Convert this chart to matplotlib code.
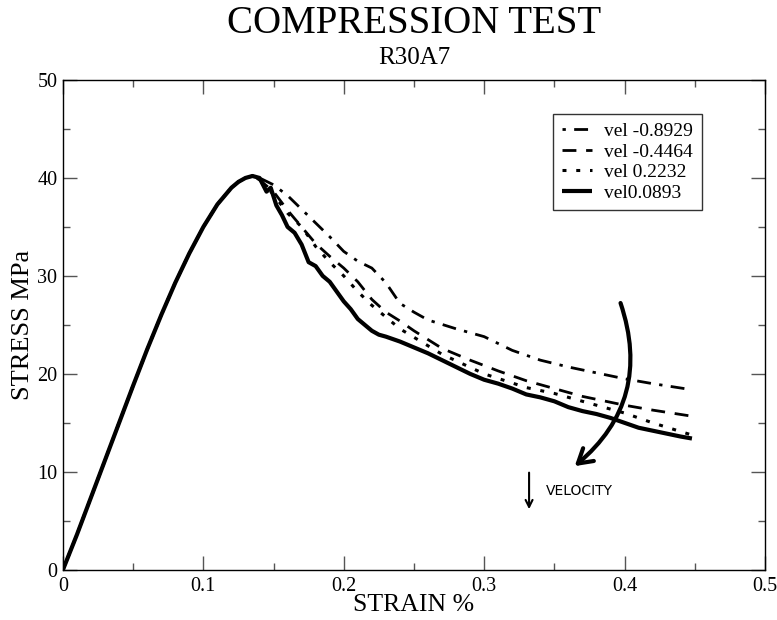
import matplotlib
matplotlib.use("Agg")
import matplotlib.pyplot as plt
from matplotlib.patches import FancyArrowPatch
from matplotlib.ticker import MultipleLocator

plt.rcParams['font.family'] = ['Liberation Serif', 'DejaVu Serif']

# Shared elastic loading branch (strain %, stress MPa)
rise_strain = [0.0, 0.01, 0.02, 0.03, 0.04, 0.05, 0.06, 0.07, 0.08, 0.09, 0.10,
               0.11, 0.12, 0.125, 0.13, 0.135]
rise_stress = [0.0, 3.6, 7.4, 11.2, 15.0, 18.8, 22.5, 26.0, 29.3, 32.3, 35.0,
               37.3, 39.0, 39.6, 40.0, 40.2]

# Post-peak branches for each loading velocity
strain_m08929 = [0.14, 0.15, 0.16, 0.17, 0.18, 0.19, 0.20, 0.21, 0.22, 0.23, 0.24,
                 0.25, 0.26, 0.28, 0.30, 0.32, 0.34, 0.36, 0.38, 0.40, 0.42, 0.447]
stress_m08929 = [40.0, 39.3, 38.2, 36.8, 35.4, 34.0, 32.5, 31.5, 30.8, 29.3, 27.2,
                 26.3, 25.5, 24.6, 23.8, 22.4, 21.4, 20.7, 20.1, 19.5, 19.0, 18.4]

strain_m04464 = [0.14, 0.15, 0.16, 0.17, 0.18, 0.19, 0.20, 0.21, 0.22, 0.23, 0.24,
                 0.25, 0.27, 0.29, 0.31, 0.33, 0.35, 0.37, 0.40, 0.42, 0.447]
stress_m04464 = [39.8, 38.6, 36.7, 35.0, 33.3, 32.0, 30.8, 29.4, 27.6, 26.3, 25.4,
                 24.4, 22.6, 21.4, 20.3, 19.3, 18.5, 17.7, 16.8, 16.3, 15.7]

strain_p02232 = [0.14, 0.15, 0.16, 0.17, 0.18, 0.19, 0.20, 0.21, 0.22, 0.24, 0.27,
                 0.30, 0.33, 0.35, 0.38, 0.40, 0.42, 0.447]
stress_p02232 = [39.8, 38.3, 36.4, 35.0, 33.0, 31.4, 30.0, 28.4, 27.0, 24.6, 22.0,
                 20.0, 18.6, 18.0, 16.8, 16.0, 15.0, 13.8]

strain_p00893 = [0.14, 0.145, 0.148, 0.152, 0.156, 0.16, 0.165, 0.17, 0.175, 0.18,
                 0.185, 0.19, 0.195, 0.20, 0.205, 0.21, 0.215, 0.22, 0.225, 0.23,
                 0.24, 0.25, 0.26, 0.27, 0.28, 0.29, 0.30, 0.31, 0.32, 0.33, 0.34,
                 0.35, 0.36, 0.37, 0.38, 0.39, 0.40, 0.41, 0.42, 0.43, 0.44, 0.448]
stress_p00893 = [40.0, 38.6, 39.0, 37.2, 36.2, 35.0, 34.4, 33.2, 31.4, 31.0,
                 30.0, 29.4, 28.4, 27.4, 26.6, 25.6, 25.0, 24.4, 24.0, 23.8,
                 23.3, 22.7, 22.1, 21.4, 20.7, 20.0, 19.4, 19.0, 18.5, 17.9, 17.6,
                 17.2, 16.6, 16.2, 15.9, 15.5, 15.0, 14.5, 14.2, 13.9, 13.6, 13.4]

series_labels = ["vel -0.8929", "vel -0.4464", "vel 0.2232", "vel0.0893"]

fig = plt.figure(figsize=(7.77, 6.2), dpi=100)
ax = fig.add_axes([0.081, 0.081, 0.9035, 0.790])

styles = [
    dict(ls=(0, (1.2, 3, 5, 3)), lw=2.0),
    dict(ls=(0, (5, 3.5)), lw=2.0),
    dict(ls=(0, (1.3, 3.2)), lw=2.2),
    dict(ls='-', lw=3.0),
]
tails = [(strain_m08929, stress_m08929), (strain_m04464, stress_m04464),
         (strain_p02232, stress_p02232), (strain_p00893, stress_p00893)]

for (xs, ys), st, lab in zip(tails, styles, series_labels):
    ax.plot(rise_strain + xs, rise_stress + ys, color='black', label=lab,
            solid_capstyle='butt', dash_capstyle='butt', **st)

ax.set_xlim(0, 0.5)
ax.set_ylim(0, 50)
ax.set_xticks([0, 0.1, 0.2, 0.3, 0.4, 0.5])
ax.set_xticklabels(['0', '0.1', '0.2', '0.3', '0.4', '0.5'])
ax.set_yticks([0, 10, 20, 30, 40, 50])
ax.set_yticklabels(['0', '10', '20', '30', '40', '50'])
ax.xaxis.set_minor_locator(MultipleLocator(0.05))
ax.yaxis.set_minor_locator(MultipleLocator(5))
ax.tick_params(which='both', direction='in', top=True, right=True,
               labelsize=14.5, color='#555555', width=1)
ax.tick_params(which='major', length=10)
ax.tick_params(which='minor', length=5)
ax.tick_params(axis='x', pad=5)
ax.tick_params(axis='y', pad=4)
for sp in ax.spines.values():
    sp.set_linewidth(1.0)

ax.set_xlabel('STRAIN %', fontsize=18.5, labelpad=-1)
ax.set_ylabel('STRESS MPa', fontsize=19, labelpad=2)

title_x = 0.081 + 0.9035 / 2
fig.text(title_x, 0.962, 'COMPRESSION TEST', ha='center', va='center', fontsize=28)
fig.text(title_x, 0.906, 'R30A7', ha='center', va='center', fontsize=18)

leg = ax.legend(loc='upper left', bbox_to_anchor=(0.698, 0.931), frameon=True,
                fancybox=False, edgecolor='black', fontsize=14, handlelength=1.55,
                handletextpad=0.65, borderpad=0.45, labelspacing=0.15,
                borderaxespad=0)
leg.get_frame().set_linewidth(1.0)

# Curved arrow indicating increasing velocity
arrow = FancyArrowPatch((0.3965, 27.5), (0.363, 10.4),
                        connectionstyle='arc3,rad=-0.35',
                        arrowstyle='->,head_length=10,head_width=6',
                        lw=3.0, color='black', mutation_scale=1)
ax.add_patch(arrow)

ax.annotate('', xy=(0.332, 5.9), xytext=(0.332, 10.2),
            arrowprops=dict(arrowstyle='->,head_length=0.5,head_width=0.25',
                        lw=1.5, color='black'))
ax.text(0.344, 8.0, 'VELOCITY', fontsize=10, family='DejaVu Sans',
        ha='left', va='center')

fig.savefig('out.png', dpi=100)
